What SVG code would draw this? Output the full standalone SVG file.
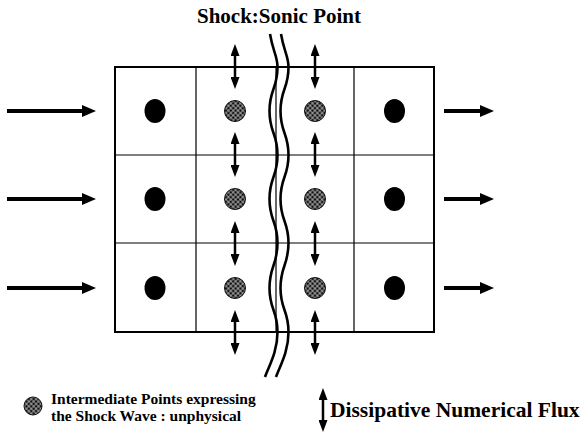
<svg xmlns="http://www.w3.org/2000/svg" width="580" height="433" viewBox="0 0 580 433">
<style>
.txt{font-family:'Liberation Serif','Tinos','DejaVu Serif',serif;font-weight:bold;fill:#000}
.grid{fill:none;stroke:#000;stroke-width:1.2}
.border{fill:none;stroke:#000;stroke-width:2}
.dot{fill:#000}
.hatch{fill:url(#xh);stroke:#111;stroke-width:1}
.varr{stroke:#000;stroke-width:2.5;marker-start:url(#vh);marker-end:url(#vh)}
.harr{stroke:#000;stroke-width:4;marker-end:url(#hh)}
.wave{fill:none;stroke:#000;stroke-width:2.6}
</style>
<defs>
<pattern id="xh" patternUnits="userSpaceOnUse" width="3.4" height="3.4" patternTransform="rotate(45)">
<rect width="3.4" height="3.4" fill="#111"/>
<path d="M0,1.7 H3.4 M1.7,0 V3.4" stroke="#fff" stroke-width="0.55"/>
</pattern>
<marker id="vh" markerUnits="userSpaceOnUse" markerWidth="12" markerHeight="9" refX="6" refY="4.5" orient="auto-start-reverse" viewBox="0 0 12 9">
<path d="M0,0 L12,4.5 L0,9 z" fill="#000"/>
</marker>
<marker id="hh" markerUnits="userSpaceOnUse" markerWidth="14" markerHeight="12" refX="7" refY="6" orient="auto" viewBox="0 0 14 12">
<path d="M0,0 L14,6 L0,12 z" fill="#000"/>
</marker>
</defs>
<rect width="580" height="433" fill="#fff"/>
<text class="txt" font-family="Liberation Serif, serif" x="279" y="23" font-size="21" text-anchor="middle">Shock:Sonic Point</text>
<g id="grid">
<path class="grid" d="M196,67 V332 M276,67 V332 M354,67 V332 M115,155 H434 M115,243 H434"/>
<rect class="border" x="115" y="67" width="319" height="265"/>
</g>
<g id="physical-points">
<g id="p-1-1"><ellipse class="dot" cx="155" cy="111" rx="10.5" ry="12"/></g>
<g id="p-2-1"><ellipse class="dot" cx="155" cy="199" rx="10.5" ry="12"/></g>
<g id="p-3-1"><ellipse class="dot" cx="155" cy="288" rx="10.5" ry="12"/></g>
<g id="p-1-4"><ellipse class="dot" cx="394.5" cy="111" rx="10.5" ry="12"/></g>
<g id="p-2-4"><ellipse class="dot" cx="394.5" cy="199" rx="10.5" ry="12"/></g>
<g id="p-3-4"><ellipse class="dot" cx="394.5" cy="288" rx="10.5" ry="12"/></g>
</g>
<g id="intermediate-points">
<g id="i-1-2"><circle class="hatch" cx="235" cy="111" r="10.5"/></g>
<g id="i-2-2"><circle class="hatch" cx="235" cy="199" r="10.5"/></g>
<g id="i-3-2"><circle class="hatch" cx="235" cy="288" r="10.5"/></g>
<g id="i-1-3"><circle class="hatch" cx="315" cy="111" r="10.5"/></g>
<g id="i-2-3"><circle class="hatch" cx="315" cy="199" r="10.5"/></g>
<g id="i-3-3"><circle class="hatch" cx="315" cy="288" r="10.5"/></g>
</g>
<g id="shock">
<path class="wave" d="M270,34 C273,52 277.5,56 277.5,67 C277.5,89 269.5,89 269.5,111 C269.5,133 277.5,133 277.5,155 C277.5,177 269.5,177 269.5,199 C269.5,221 277.5,221 277.5,243 C277.5,265 269.5,266 269.5,288 C269.5,310 277.5,310 277.5,332 C277.5,352 269,366 265,377"/>
<path class="wave" d="M281,34 C284,52 288.5,56 288.5,67 C288.5,89 280.5,89 280.5,111 C280.5,133 288.5,133 288.5,155 C288.5,177 280.5,177 280.5,199 C280.5,221 288.5,221 288.5,243 C288.5,265 280.5,266 280.5,288 C280.5,310 288.5,310 288.5,332 C288.5,352 280,366 276,377"/>
</g>
<g id="connectors">
<line class="harr" x1="7" y1="111" x2="89" y2="111"/>
<line class="harr" x1="7" y1="199" x2="89" y2="199"/>
<line class="harr" x1="7" y1="288" x2="89" y2="288"/>
<line class="harr" x1="444" y1="111" x2="487" y2="111"/>
<line class="harr" x1="444" y1="199" x2="487" y2="199"/>
<line class="harr" x1="444" y1="288" x2="487" y2="288"/>
<line class="varr" x1="235" y1="50" x2="235" y2="83"/>
<line class="varr" x1="235" y1="138" x2="235" y2="171"/>
<line class="varr" x1="235" y1="227" x2="235" y2="260"/>
<line class="varr" x1="235" y1="316" x2="235" y2="349"/>
<line class="varr" x1="315" y1="50" x2="315" y2="83"/>
<line class="varr" x1="315" y1="138" x2="315" y2="171"/>
<line class="varr" x1="315" y1="227" x2="315" y2="260"/>
<line class="varr" x1="315" y1="316" x2="315" y2="349"/>
</g>
<g id="legend">
<circle class="hatch" cx="33" cy="406" r="9"/>
<text class="txt" font-family="Liberation Serif, serif" x="51" y="404" font-size="15.5">Intermediate Points expressing</text>
<text class="txt" font-family="Liberation Serif, serif" x="51" y="421" font-size="15.5">the Shock Wave : unphysical</text>
<line class="varr" x1="323" y1="394" x2="323" y2="426"/>
<text class="txt" font-family="Liberation Serif, serif" x="330" y="417" font-size="21.5">Dissipative Numerical Flux</text>
</g>
</svg>
